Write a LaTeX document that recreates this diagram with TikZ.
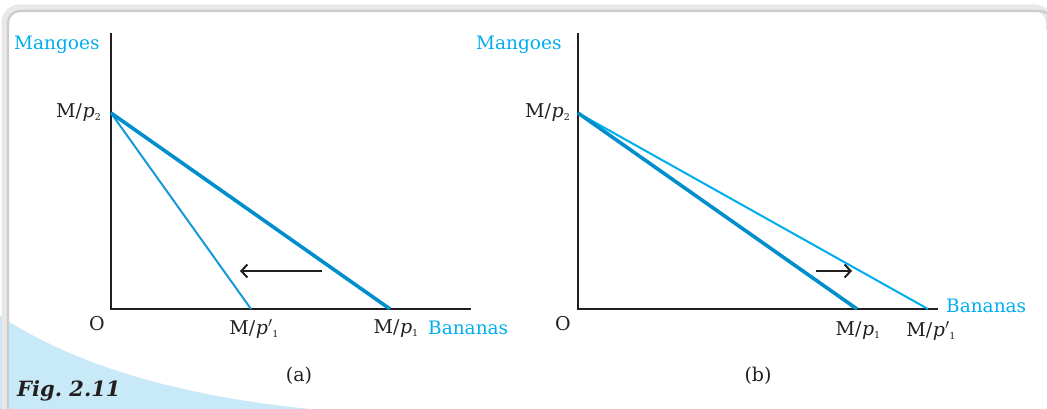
\documentclass[tikz,border=0pt]{standalone}
\usepackage{fontspec}
\setmainfont{DejaVu Serif}
\usetikzlibrary{arrows.meta}
\definecolor{lblue}{RGB}{0,174,239}
\definecolor{dblue}{RGB}{0,143,204}
\definecolor{tblue}{RGB}{20,155,215}
\definecolor{pale}{RGB}{200,233,248}
\definecolor{ink}{RGB}{35,31,32}
\newcommand{\subsc}[1]{\raisebox{-0.3ex}{\fontsize{9.5}{9.5}\selectfont #1}}
\newcommand{\mpfrac}[2]{M/\kern0.5pt\textit{p}#1\subsc{#2}}
\tikzset{
  axis/.style={draw=ink,line width=2.6pt},
  thickbl/.style={draw=dblue,line width=3.6pt},
  thinbl/.style={draw=tblue,line width=2pt},
  lightbl/.style={draw=lblue,line width=2pt},
  shift arrow/.style={draw=ink,line width=2pt,-{Straight Barb[length=6pt,width=13pt,line width=2pt]}},
  lbl/.style={text=ink,font=\fontsize{19}{23}\selectfont,inner sep=0pt},
  clbl/.style={text=lblue,font=\fontsize{18.5}{22}\selectfont,inner sep=0pt},
}
\begin{document}
\begin{tikzpicture}[x=1pt,y=-1pt]
\useasboundingbox (0,0) rectangle (1047,409);
% background decoration
\fill[pale] (0,316) .. controls (70,362) and (170,395) .. (310,409) -- (0,409) -- cycle;
\begin{scope}
\clip (0,0) rectangle (1047,409);
\draw[gray!18,line width=7pt,rounded corners=14pt] (5,409) -- (5,8) -- (1049,8) -- (1049,30);
\draw[gray!40,line width=2.2pt,rounded corners=12pt] (8,409) -- (8,11) -- (1052,11) -- (1052,30);
\end{scope}
\node[text=ink,font=\fontsize{21}{25}\selectfont\bfseries\itshape,anchor=west,inner sep=0pt] (fig) at (17,391) {Fig.~2.11};

% ---------- panel (a)
\coordinate (Ya) at (111,33);
\coordinate (Oa) at (111,309);
\coordinate (Xa) at (471,309);
\coordinate (Pa) at (111,113);
\coordinate (Qa) at (390,309);
\coordinate (Ra) at (251,309);
\coordinate (arSa) at (322,271);
\coordinate (arEa) at (240,271);
\draw[axis] (Ya) -- (Oa) -- (Xa);
\draw[thinbl] (Pa) -- (Ra);
\draw[thickbl] (Pa) -- (Qa);
\draw[shift arrow] (arSa) -- (arEa);
\node[clbl,anchor=west] (mga) at (14,45) {Mangoes};
\node[lbl,anchor=east] (pa2) at (101,113) {\mpfrac{}{2}};
\node[lbl] (oa) at (97,324) {O};
\node[lbl] (ra1) at (254,329) {\mpfrac{$'$}{1}};
\node[lbl] (qa1) at (396,329) {\mpfrac{}{1}};
\node[clbl,anchor=west] (bna) at (428,328) {Bananas};
\node[lbl] (capa) at (299,376) {(a)};

% ---------- panel (b)
\coordinate (Yb) at (578,33);
\coordinate (Ob) at (578,309);
\coordinate (Xb) at (938,309);
\coordinate (Pb) at (578,113);
\coordinate (Qb) at (857,309);
\coordinate (Rb) at (928,309);
\coordinate (arSb) at (816,271);
\coordinate (arEb) at (852,271);
\draw[axis] (Yb) -- (Ob) -- (Xb);
\draw[lightbl] (Pb) -- (Rb);
\draw[thickbl] (Pb) -- (Qb);
\draw[shift arrow] (arSb) -- (arEb);
\node[clbl,anchor=west] (mgb) at (476,45) {Mangoes};
\node[lbl,anchor=east] (pb2) at (570,113) {\mpfrac{}{2}};
\node[lbl] (ob) at (563,324) {O};
\node[lbl] (qb1) at (858,331) {\mpfrac{}{1}};
\node[lbl] (rb1) at (931,331) {\mpfrac{$'$}{1}};
\node[clbl,anchor=west] (bnb) at (946,306) {Bananas};
\node[lbl] (capb) at (758,376) {(b)};
\end{tikzpicture}
\end{document}
